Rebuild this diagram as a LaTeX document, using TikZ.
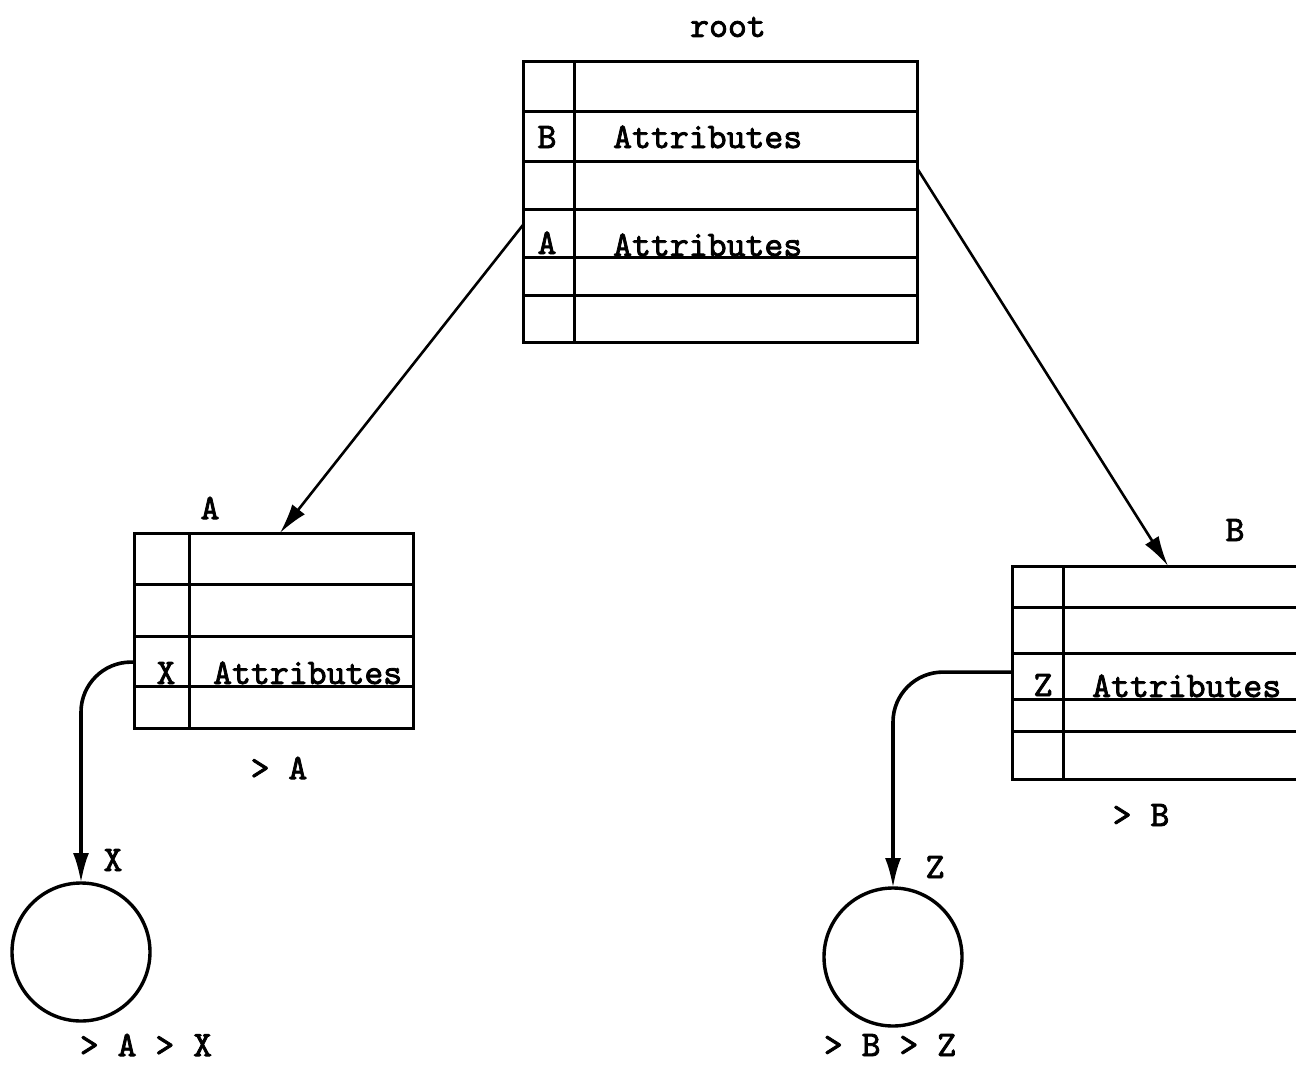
\documentclass[tikz,border=0pt]{standalone}
\usepackage{fontspec}
\newfontfamily\typewfont[AutoFakeBold=2.2]{lmmono10-regular.otf}
\newcommand\typew{\typewfont\bfseries\fontsize{36}{36}\selectfont}
\usetikzlibrary{arrows.meta,calc}
\begin{document}
\begin{tikzpicture}[x=1pt,y=-1pt,
  tline/.style={line width=3pt},
  frame/.style={draw, line width=3pt, inner sep=0pt, outer sep=0pt},
  circ/.style={draw, circle, line width=3.4pt, inner sep=0pt, outer sep=0pt, minimum size=138pt},
  arr/.style={line width=2.6pt, -{Latex[length=30pt,width=16pt]}},
  carr/.style={line width=3.6pt, -{Latex[length=30pt,width=16pt]}},
  txt/.style={font=\typew, inner sep=0pt},
  lbl/.style={font=\typew, inner sep=0pt}]
\useasboundingbox (0,0) rectangle (1296,1065);
% root table
\node[frame, minimum width=394pt, minimum height=280pt] (root) at (720,202) {};
\foreach \y in {111,161,209,257,295} \draw[tline] (523,\y) -- (917,\y);
\draw[tline] (574,62) -- (574,342);
\node[lbl] (lroot) at (728,27) {root};
\node[lbl, anchor=base] (rB) at (547,148) {B};
\node[txt, anchor=base west] (rBt) at (613,148) {Attributes};
\node[lbl, anchor=base] (rA) at (547,254) {A};
\node[txt, anchor=base west] (rAt) at (613,256) {Attributes};
% table A
\node[frame, minimum width=279pt, minimum height=195pt] (tA) at (273.5,630.5) {};
\foreach \y in {584,636,686} \draw[tline] (134,\y) -- (413,\y);
\draw[tline] (189,533) -- (189,728);
\node[lbl] (lA) at (210,508) {A};
\node[lbl, anchor=base] (aX) at (166,684) {X};
\node[txt, anchor=base west] (aXt) at (213,684) {Attributes};
\node[lbl] (gA) at (279,768) {> A};
% table B (cut off at the right edge)
\node[inner sep=0pt, minimum width=284pt, minimum height=213pt] (tB) at (1154,672.5) {};
\draw[tline] (1296,566) -- (1012,566) -- (1012,779) -- (1296,779);
\foreach \y in {607,653,699,731} \draw[tline] (1012,\y) -- (1296,\y);
\draw[tline] (1063,566) -- (1063,779);
\node[lbl] (lB) at (1235,530) {B};
\node[lbl, anchor=base] (bZ) at (1043,696) {Z};
\node[txt, anchor=base west] (bZt) at (1092,697) {Attributes};
\node[lbl] (gB) at (1141,815) {> B};
% circles
\node[circ] (cX) at (81,952) {};
\node[lbl] (lX) at (113,860) {X};
\node[lbl] (gX) at (146,1045) {> A > X};
\node[circ] (cZ) at (893,957) {};
\node[lbl] (lZ) at (935,867) {Z};
\node[lbl] (gZ) at (890,1045) {> B > Z};
% connectors
\draw[arr] ($(root.north west)!0.582!(root.south west)$) -- ($(tA.north west)!0.523!(tA.north east)$);
\draw[arr] ($(root.north east)!0.379!(root.south east)$) -- ($(tB.north west)!0.549!(tB.north east)$);
\draw[carr, rounded corners=50pt] ($(tA.north west)!0.662!(tA.south west)$) -| (cX.north);
\draw[carr, rounded corners=50pt] ($(tB.north west)!0.498!(tB.south west)$) -| (cZ.north);
\end{tikzpicture}
\end{document}
